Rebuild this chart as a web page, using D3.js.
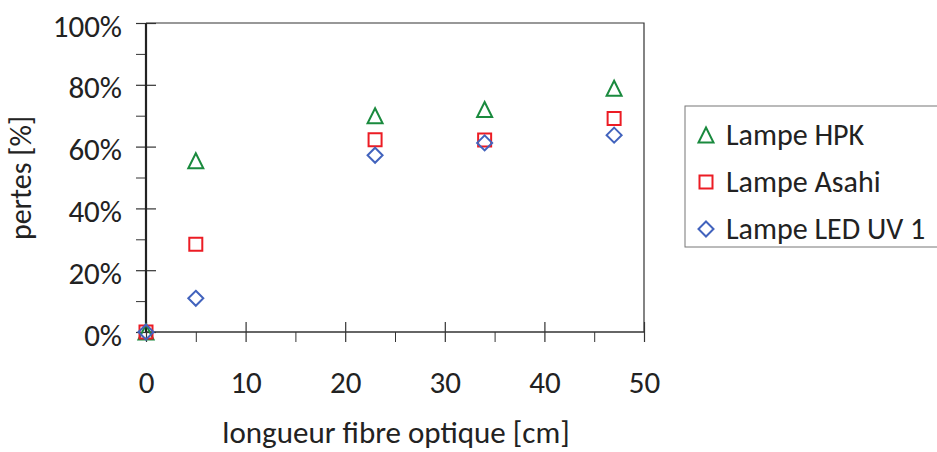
<!DOCTYPE html>
<html>
<head>
<meta charset="utf-8">
<script src="https://cdn.jsdelivr.net/npm/d3@7"></script>
<style>
  body { margin: 0; background: #fff; }
  svg { display: block; }
  text { font-family: Carlito, "Open Sans", sans-serif; fill: #222; }
</style>
</head>
<body>
<div id="chart"></div>
<script>
  // data
  const xValues = [0, 5, 23, 34, 47];
  const hpkValues = [0, 0.554, 0.700, 0.720, 0.789];
  const asahiValues = [0, 0.284, 0.622, 0.621, 0.691];
  const ledValues = [0, 0.109, 0.572, 0.612, 0.637];
  const seriesNames = ["Lampe HPK", "Lampe Asahi", "Lampe LED UV 1"];
  const xTicks = [0, 10, 20, 30, 40, 50];
  const yTicks = [0, 0.2, 0.4, 0.6, 0.8, 1.0];

  // chart settings
  const svg_width = 937, svg_height = 452;
  const margin = { top: 23, left: 146 };
  const width = 498, height = 309;

  const series = [
    { name: seriesNames[0], values: hpkValues, color: "#1a8a3e", shape: "triangle" },
    { name: seriesNames[1], values: asahiValues, color: "#ec1c24", shape: "square" },
    { name: seriesNames[2], values: ledValues, color: "#4263bd", shape: "diamond" }
  ];

  // marker shapes (Excel style)
  const shapes = {
    triangle: { draw(ctx, s) { const r = Math.sqrt(s) / 2; ctx.moveTo(0, -r); ctx.lineTo(r, r); ctx.lineTo(-r, r); ctx.closePath(); } },
    square: { draw(ctx, s) { const r = Math.sqrt(s) / 2; ctx.rect(-r, -r, 2 * r, 2 * r); } },
    diamond: { draw(ctx, s) { const r = Math.sqrt(s) / 2; ctx.moveTo(0, -r); ctx.lineTo(r, 0); ctx.lineTo(0, r); ctx.lineTo(-r, 0); ctx.closePath(); } }
  };
  const sizes = { triangle: 15 * 15, square: 13 * 13, diamond: 15 * 15 };

  const x = d3.scaleLinear().domain([0, 50]).range([0, width]);
  const y = d3.scaleLinear().domain([0, 1]).range([height, 0]);

  const svg = d3.select("#chart").append("svg")
    .attr("width", svg_width)
    .attr("height", svg_height);
  const g = svg.append("g")
    .attr("transform", "translate(" + margin.left + "," + margin.top + ")");

  // plot area border (top + right)
  g.append("path")
    .attr("d", "M0,0H" + width + "V" + height)
    .attr("fill", "none")
    .attr("stroke", "#333")
    .attr("stroke-width", 1.2);

  // minor ticks (outside only)
  g.append("g")
    .attr("transform", "translate(0," + height + ")")
    .call(d3.axisBottom(x).tickValues([5, 15, 25, 35, 45]).tickSize(10).tickFormat(""))
    .call(a => a.select(".domain").remove())
    .selectAll("line").attr("stroke", "#333");
  g.append("g")
    .call(d3.axisLeft(y).tickValues([0.1, 0.3, 0.5, 0.7, 0.9]).tickSize(10).tickFormat(""))
    .call(a => a.select(".domain").remove())
    .selectAll("line").attr("stroke", "#333");

  // x axis, major ticks cross the line
  const xAxis = g.append("g")
    .attr("transform", "translate(0," + height + ")")
    .call(d3.axisBottom(x).tickValues(xTicks).tickSize(10).tickPadding(29));
  xAxis.select(".domain").remove();
  xAxis.selectAll("line").attr("y1", -10).attr("stroke", "#333").attr("stroke-width", 1.2);
  xAxis.selectAll("text").style("font-size", "31px").attr("fill", "#222");
  g.append("line")
    .attr("x1", 0).attr("x2", width).attr("y1", height).attr("y2", height)
    .attr("stroke", "#333").attr("stroke-width", 1.5);

  // y axis
  const yAxis = g.append("g")
    .call(d3.axisLeft(y).tickValues(yTicks).tickSize(10).tickPadding(14).tickFormat(d3.format(".0%")));
  yAxis.select(".domain").remove();
  yAxis.selectAll("line").attr("x1", 10).attr("stroke", "#333").attr("stroke-width", 1.2);
  yAxis.selectAll("text").style("font-size", "31px").attr("fill", "#222").attr("dy", "0.42em");
  g.append("line")
    .attr("x1", 0).attr("x2", 0).attr("y1", 0).attr("y2", height)
    .attr("stroke", "#222").attr("stroke-width", 2.2);

  // axis titles
  svg.append("text")
    .attr("transform", "translate(31,178) rotate(-90)")
    .attr("text-anchor", "middle")
    .style("font-size", "30px")
    .text("pertes [%]");
  svg.append("text")
    .attr("x", 396).attr("y", 443)
    .attr("text-anchor", "middle")
    .style("font-size", "31px")
    .text("longueur fibre optique [cm]");

  // points
  series.forEach(function (s) {
    g.selectAll(".pt-" + s.shape)
      .data(s.values)
      .enter().append("path")
      .attr("class", "pt-" + s.shape)
      .attr("transform", function (d, i) { return "translate(" + x(xValues[i]) + "," + y(d) + ")"; })
      .attr("d", d3.symbol().type(shapes[s.shape]).size(sizes[s.shape]))
      .attr("fill", "none")
      .attr("stroke", s.color)
      .attr("stroke-width", 2);
  });

  // legend
  const legend = svg.append("g").attr("transform", "translate(685,106)");
  legend.append("rect")
    .attr("x", 0).attr("y", 0).attr("width", 260).attr("height", 141)
    .attr("fill", "#fff").attr("stroke", "#777").attr("stroke-width", 1);
  const rows = legend.selectAll(".leg")
    .data(series)
    .enter().append("g")
    .attr("class", "leg")
    .attr("transform", function (d, i) { return "translate(0," + (29 + i * 47) + ")"; });
  rows.append("path")
    .attr("transform", "translate(21,0)")
    .attr("d", function (d) { return d3.symbol().type(shapes[d.shape]).size(sizes[d.shape])(); })
    .attr("fill", "none")
    .attr("stroke", function (d) { return d.color; })
    .attr("stroke-width", 2);
  rows.append("text")
    .attr("x", 41).attr("dy", "0.33em")
    .style("font-size", "30px")
    .text(function (d) { return d.name; });
</script>
</body>
</html>
